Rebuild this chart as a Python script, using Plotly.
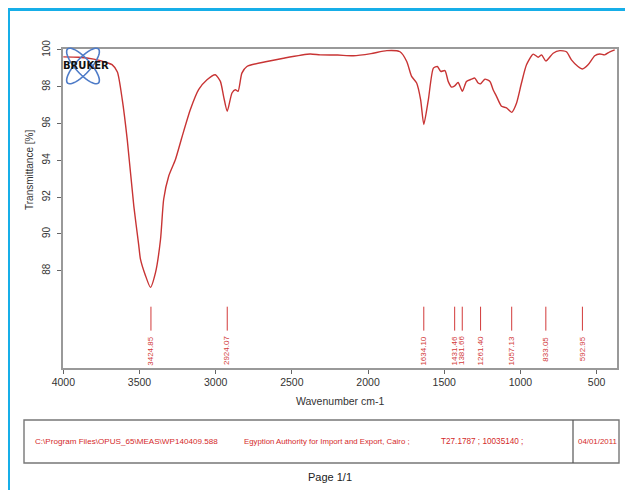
import math
import plotly.graph_objects as go

# ---- data ----
wavenumber = [4000, 3900, 3800, 3710, 3680, 3645, 3613, 3580, 3537, 3505, 3494,
              3461, 3428, 3395, 3362, 3341, 3308, 3264, 3220, 3166, 3112, 3057,
              3002, 2969, 2948, 2924, 2893, 2871, 2853, 2828, 2795, 2664, 2555,
              2380, 2314, 2200, 2096, 1980, 1877, 1790, 1746, 1714, 1681, 1655,
              1634, 1604, 1571, 1545, 1523, 1495, 1474, 1452, 1431, 1409, 1381,
              1354, 1321, 1299, 1277, 1261, 1233, 1200, 1179, 1157, 1124, 1091,
              1057, 1025, 993, 960, 916, 883, 861, 833, 785, 741, 698, 665, 622,
              593, 556, 512, 479, 447, 413, 381]
transmittance = [99.62, 99.6, 99.5, 99.3, 99.2, 98.8, 97.3, 95.1, 91.5, 89.4, 88.65,
                 87.75, 87.1, 87.9, 89.7, 91.9, 93.15, 94.05, 95.3, 96.76, 97.84, 98.38,
                 98.65, 98.29, 97.48, 96.67, 97.66, 97.84, 97.75, 98.74, 99.1, 99.37, 99.55,
                 99.78, 99.73, 99.72, 99.68, 99.8, 99.96, 99.9, 99.37, 98.56, 98.2, 97.3,
                 95.95, 97.3, 99.01, 99.1, 98.83, 98.88, 98.29, 97.98, 98.05, 98.23, 97.75,
                 98.29, 98.41, 98.47, 98.2, 98.16, 98.41, 98.29, 97.84, 97.48, 96.94, 96.85,
                 96.61, 97.12, 98.2, 99.19, 99.77, 99.6, 99.73, 99.4, 99.82, 99.96, 99.9, 99.46, 99.1,
                 98.96, 99.19, 99.68, 99.78, 99.73, 99.9, 100.0]

peak_labels = ["3424.85", "2924.07", "1634.10", "1431.46", "1381.66",
               "1261.40", "1057.13", "833.05", "592.95"]
peak_positions = [float(s) for s in peak_labels]

x_ticks = [4000, 3500, 3000, 2500, 2000, 1500, 1000, 500]
y_ticks = [88, 90, 92, 94, 96, 98, 100]

footer_texts = [r"C:\Program Files\OPUS_65\MEAS\WP140409.588",
                "Egyption Authority for Import and Export, Cairo ;",
                "T27.1787 ; 10035140 ;",
                "04/01/2011"]
footer_sizes = [8.1, 7.8, 8.2, 7.9]

# ---- layout geometry ----
# the page body adds an 8px offset, so the figure is 8px smaller and all
# page-pixel positions below are shifted by that offset.
OFF = 8
W, H = 633 - OFF, 490 - OFF
ML, MR, MT, MB = 63 - OFF, 16, 49 - OFF, 122
PW, PH = W - ML - MR, H - MT - MB


def px(xp):
    return (xp - OFF - ML) / PW


def py(yp):
    return (H - MB - (yp - OFF)) / PH


RED = "#c83434"
LABEL_RED = "#d23a3a"

fig = go.Figure()
fig.add_trace(go.Scatter(
    x=wavenumber, y=transmittance, mode="lines",
    line=dict(color=RED, width=1.4, shape="spline", smoothing=0.6),
    hoverinfo="skip", showlegend=False))

# peak marker lines
pk_x, pk_y = [], []
for p in peak_positions:
    pk_x += [p, p, None]
    pk_y += [86.05, 84.75, None]
fig.add_trace(go.Scatter(x=pk_x, y=pk_y, mode="lines",
                         line=dict(color=LABEL_RED, width=1),
                         hoverinfo="skip", showlegend=False))

annotations = []
for p, lab in zip(peak_positions, peak_labels):
    annotations.append(dict(x=p, y=84.55, xref="x", yref="y", text=lab,
                            showarrow=False, textangle=-90, xanchor="center",
                            yanchor="top", font=dict(size=8, color=LABEL_RED,
                                                     family="Liberation Sans")))

# axis titles
annotations.append(dict(x=px(340), y=py(401), xref="paper", yref="paper",
                        text="Wavenumber cm-1", showarrow=False,
                        xanchor="center", yanchor="middle",
                        font=dict(size=10.5, color="#333", family="Liberation Sans")))
annotations.append(dict(x=px(29), y=py(170), xref="paper", yref="paper",
                        text="Transmittance [%]", showarrow=False, textangle=-90,
                        xanchor="center", yanchor="middle",
                        font=dict(size=10, color="#333", family="Liberation Sans")))

# footer texts
footer_x = [33, 242, 439, 576]
for fx, t, fs in zip(footer_x, footer_texts, footer_sizes):
    annotations.append(dict(x=px(fx), y=py(441), xref="paper", yref="paper",
                            text=t, showarrow=False, xanchor="left", yanchor="middle",
                            font=dict(size=fs, color="#d42a2a",
                                      family="Liberation Sans")))
annotations.append(dict(x=px(330), y=py(477), xref="paper", yref="paper",
                        text="Page 1/1", showarrow=False,
                        xanchor="center", yanchor="middle",
                        font=dict(size=11, color="#222", family="Liberation Sans")))

# Bruker logo text
annotations.append(dict(x=px(86), y=py(65), xref="paper", yref="paper",
                        text="<b>BRUKER</b>", showarrow=False,
                        xanchor="center", yanchor="middle",
                        font=dict(size=10, color="#111", family="DejaVu Sans")))


def ellipse_path(cx, cy, a, b, ang, n=48):
    pts = []
    ca, sa = math.cos(math.radians(ang)), math.sin(math.radians(ang))
    for i in range(n):
        t = 2 * math.pi * i / n
        ex, ey = a * math.cos(t), b * math.sin(t)
        xx = cx + ex * ca - ey * sa
        yy = cy + ex * sa + ey * ca
        pts.append(f"{px(xx):.5f},{py(yy):.5f}")
    return "M " + " L ".join(pts) + " Z"


shapes = []
for ang in (48, -48):
    shapes.append(dict(type="path", xref="paper", yref="paper",
                       path=ellipse_path(83, 66, 23, 7.5, ang),
                       line=dict(color="#4f7cc8", width=1.6), layer="above"))

# blue page frame (left and top)
BLUE = "#16aee8"
shapes.append(dict(type="line", xref="paper", yref="paper",
                   x0=px(8.5), x1=px(8.5), y0=py(8), y1=py(500),
                   line=dict(color=BLUE, width=3)))
shapes.append(dict(type="line", xref="paper", yref="paper",
                   x0=px(7), x1=px(640), y0=py(9.5), y1=py(9.5),
                   line=dict(color=BLUE, width=3)))

# footer box
shapes.append(dict(type="rect", xref="paper", yref="paper",
                   x0=px(24), x1=px(619), y0=py(463), y1=py(420),
                   line=dict(color="#777", width=1.4)))
shapes.append(dict(type="line", xref="paper", yref="paper",
                   x0=px(573), x1=px(573), y0=py(463), y1=py(420),
                   line=dict(color="#555", width=1.2)))

fig.update_layout(
    width=W, height=H,
    margin=dict(l=ML, r=MR, t=MT, b=MB, pad=0),
    paper_bgcolor="white", plot_bgcolor="white",
    annotations=annotations, shapes=shapes,
    font=dict(family="Liberation Sans", color="#333"),
    xaxis=dict(range=[4002, 366], tickvals=x_ticks, ticktext=[str(v) for v in x_ticks],
               showgrid=False, zeroline=False, showline=True, mirror=True,
               linecolor="#999", linewidth=1.5, ticks="outside", ticklen=4,
               tickcolor="#666", tickfont=dict(size=10.5, color="#333")),
    yaxis=dict(range=[82.72, 100.05], tickvals=y_ticks, ticktext=[str(v) for v in y_ticks],
               tickangle=-90, showgrid=False, zeroline=False, showline=True, mirror=True,
               linecolor="#999", linewidth=1.5, ticks="outside", ticklen=4,
               ticklabelstandoff=3,
               tickcolor="#666", tickfont=dict(size=10, color="#333")),
)

fig.write_html("out.html")
